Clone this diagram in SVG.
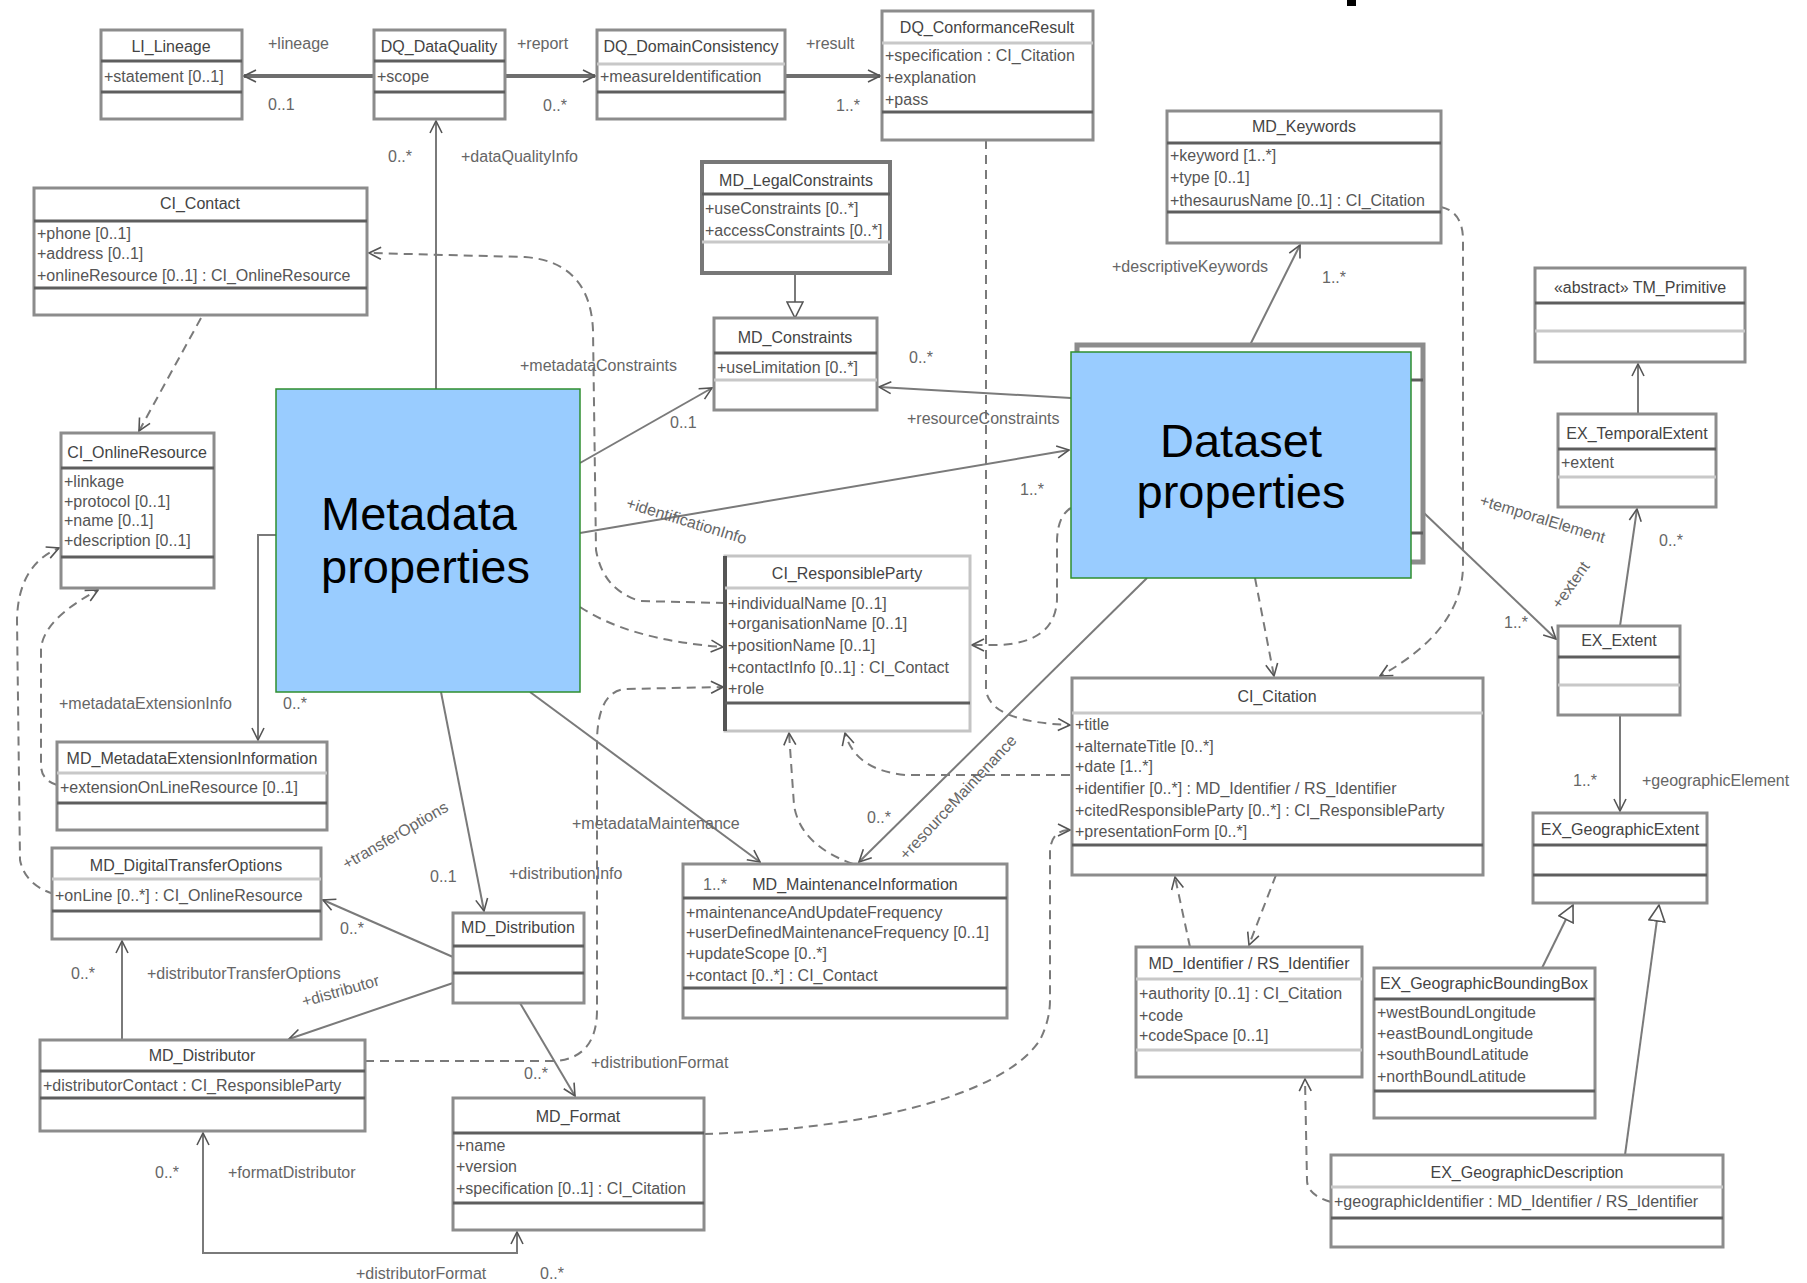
<svg xmlns="http://www.w3.org/2000/svg" width="1807" height="1283" viewBox="0 0 1807 1283">
<style>
.b{fill:#fff;stroke:#8c8c8c;stroke-width:3}
.s{stroke:#5e5e5e;stroke-width:3}
.sl{stroke:#c8c8c8;stroke-width:3}
text{font-family:"Liberation Sans",Arial,sans-serif}
.n{font-size:16px;fill:#444;text-anchor:middle}
.t{font-size:16px;fill:#555}
.l{font-size:16px;fill:#666}
.big{font-size:47px;fill:#000}
.c{fill:none;stroke:#7a7a7a;stroke-width:2}
.k{fill:none;stroke:#6e6e6e;stroke-width:4}
.d{stroke-dasharray:9 6}
.blue{fill:#99CCFF;stroke:#2f8f2f;stroke-width:1.5}
</style>
<defs>
<marker id="a" viewBox="0 0 14 14" refX="13" refY="7" markerWidth="14" markerHeight="14" markerUnits="userSpaceOnUse" orient="auto-start-reverse"><path d="M1,1 L13,7 L1,13" fill="none" stroke="#555" stroke-width="1.6"/></marker>
<marker id="g" viewBox="0 0 18 18" refX="17" refY="9" markerWidth="18" markerHeight="18" markerUnits="userSpaceOnUse" orient="auto"><path d="M1,1 L17,9 L1,17 Z" fill="#fff" stroke="#555" stroke-width="1.6"/></marker>
</defs>
<rect width="1807" height="1283" fill="#fff"/>
<rect x="1347" y="0" width="9" height="6" fill="#000"/>

<g id="connectors">
<path class="k" d="M374,76 L244,76" marker-end="url(#a)"/>
<path class="k" d="M505,76 L595,76" marker-end="url(#a)"/>
<path class="k" d="M785,76 L880,76" marker-end="url(#a)"/>
<path class="c" d="M436,389 L436,121" marker-end="url(#a)"/>
<path class="c" d="M795,273 L795,318" stroke-width="3" marker-end="url(#g)"/>
<path class="c" d="M580,463 L712,388" marker-end="url(#a)"/>
<path class="c" d="M1071,398 L879,387" marker-end="url(#a)"/>
<path class="c" d="M1250,345 L1300,245" marker-end="url(#a)"/>
<path class="c d" d="M1441,207 Q1463,212 1463,240 L1463,565 Q1463,630 1380,676" marker-end="url(#a)"/>
<path class="c d" d="M986,140 L986,690 Q990,722 1070,725" marker-end="url(#a)"/>
<path class="c" d="M580,533 L1069,450" marker-end="url(#a)"/>
<path class="c d" d="M725,603 L640,601 Q603,590 596,550 L593,330 Q590,262 525,257 L369,253" marker-end="url(#a)"/>
<path class="c d" d="M580,607 Q630,640 723,647" marker-end="url(#a)"/>
<path class="c d" d="M365,1061 L555,1061 Q597,1058 597,1010 L597,740 Q598,692 625,689 L723,687" marker-end="url(#a)"/>
<path class="c" d="M530,692 L760,862" marker-end="url(#a)"/>
<path class="c" d="M1147,578 L859,862" marker-end="url(#a)"/>
<path class="c d" d="M853,864 Q800,845 794,805 L789,733" marker-end="url(#a)"/>
<path class="c d" d="M1070,775 L905,775 Q855,770 845,733" marker-end="url(#a)"/>
<path class="c d" d="M1071,508 Q1058,515 1057,540 L1057,600 Q1055,642 1000,645 L972,645" marker-end="url(#a)"/>
<path class="c d" d="M1255,578 L1274,676" marker-end="url(#a)"/>
<path class="c" d="M1424,513 L1556,639" marker-end="url(#a)"/>
<path class="c" d="M1620,626 L1637,509" marker-end="url(#a)"/>
<path class="c" d="M1620,715 L1620,811" stroke-width="3" marker-end="url(#a)"/>
<path class="c" d="M1638,414 L1638,364" stroke-width="3" marker-end="url(#a)"/>
<path class="c" d="M1542,968 L1573,905" marker-end="url(#g)"/>
<path class="c" d="M1625,1155 L1659,905" marker-end="url(#g)"/>
<path class="c d" d="M1331,1202 Q1307,1195 1307,1180 L1305,1079" marker-end="url(#a)"/>
<path class="c d" d="M1190,947 L1175,877" marker-end="url(#a)"/>
<path class="c d" d="M1276,875 L1249,945" marker-end="url(#a)"/>
<path class="c d" d="M704,1134 C850,1130 1000,1100 1040,1040 Q1050,1020 1050,1000 L1050,850 Q1052,830 1070,830" marker-end="url(#a)"/>
<path class="c" d="M441,692 L484,911" marker-end="url(#a)"/>
<path class="c" d="M453,957 L323,900" marker-end="url(#a)"/>
<path class="c" d="M453,983 L289,1039" marker-end="url(#a)"/>
<path class="c" d="M122,1040 L122,941" stroke-width="3" marker-end="url(#a)"/>
<path class="c" d="M520,1003 L575,1096" marker-end="url(#a)"/>
<path class="c" d="M203,1133 L203,1253 L517,1253 L517,1232" stroke-width="3" marker-start="url(#a)" marker-end="url(#a)"/>
<path class="c" d="M276,535 L258,535 L258,740" stroke-width="3" marker-end="url(#a)"/>
<path class="c d" d="M201,318 L139,431" marker-end="url(#a)"/>
<path class="c d" d="M54,894 Q25,885 20,860 L17,620 Q18,565 59,548" marker-end="url(#a)"/>
<path class="c d" d="M57,785 Q41,780 41,765 L41,650 Q42,620 98,590" marker-end="url(#a)"/>

<text class="l" x="268" y="49">+lineage</text>
<text class="l" x="268" y="110">0..1</text>
<text class="l" x="517" y="49">+report</text>
<text class="l" x="543" y="111">0..*</text>
<text class="l" x="806" y="49">+result</text>
<text class="l" x="836" y="111">1..*</text>
<text class="l" x="388" y="162">0..*</text>
<text class="l" x="461" y="162">+dataQualityInfo</text>
<text class="l" x="520" y="371">+metadataConstraints</text>
<text class="l" x="670" y="428">0..1</text>
<text class="l" x="909" y="363">0..*</text>
<text class="l" x="907" y="424">+resourceConstraints</text>
<text class="l" x="1112" y="272">+descriptiveKeywords</text>
<text class="l" x="1322" y="283">1..*</text>
<text class="l" x="1020" y="495">1..*</text>
<text class="l" text-anchor="middle" transform="translate(685,526) rotate(17)">+identificationInfo</text>
<text class="l" x="572" y="829">+metadataMaintenance</text>
<text class="l" text-anchor="middle" transform="translate(962,801) rotate(-47)">+resourceMaintenance</text>
<text class="l" x="867" y="823">0..*</text>
<text class="l" x="1504" y="628">1..*</text>
<text class="l" text-anchor="middle" transform="translate(1575,588) rotate(-55)">+extent</text>
<text class="l" x="1659" y="546">0..*</text>
<text class="l" text-anchor="middle" transform="translate(1541,524) rotate(17)">+temporalElement</text>
<text class="l" x="1573" y="786">1..*</text>
<text class="l" x="1642" y="786">+geographicElement</text>
<text class="l" x="430" y="882">0..1</text>
<text class="l" x="509" y="879">+distributionInfo</text>
<text class="l" x="340" y="934">0..*</text>
<text class="l" text-anchor="middle" transform="translate(398,840) rotate(-30)">+transferOptions</text>
<text class="l" text-anchor="middle" transform="translate(342,996) rotate(-16)">+distributor</text>
<text class="l" x="318" y="1066">1..*</text>
<text class="l" x="71" y="979">0..*</text>
<text class="l" x="147" y="979">+distributorTransferOptions</text>
<text class="l" x="524" y="1079">0..*</text>
<text class="l" x="591" y="1068">+distributionFormat</text>
<text class="l" x="155" y="1178">0..*</text>
<text class="l" x="228" y="1178">+formatDistributor</text>
<text class="l" x="356" y="1279">+distributorFormat</text>
<text class="l" x="540" y="1279">0..*</text>
<text class="l" x="59" y="709">+metadataExtensionInfo</text>
<text class="l" x="283" y="709">0..*</text>
</g>

<g id="LI_Lineage"><rect class="b" x="101" y="30" width="141" height="89"/><line class="s" x1="101" y1="61" x2="242" y2="61"/><line class="s" x1="101" y1="92" x2="242" y2="92"/><text class="n" x="171" y="52">LI_Lineage</text><text class="t" x="104" y="82">+statement [0..1]</text></g>
<g id="DQ_DataQuality"><rect class="b" x="374" y="30" width="131" height="89"/><line class="s" x1="374" y1="61" x2="505" y2="61"/><line class="s" x1="374" y1="92" x2="505" y2="92"/><text class="n" x="439" y="52">DQ_DataQuality</text><text class="t" x="377" y="82">+scope</text></g>
<g id="DQ_DomainConsistency"><rect class="b" x="597" y="30" width="188" height="89"/><line class="sl" x1="597" y1="64" x2="785" y2="64"/><line class="s" x1="597" y1="92" x2="785" y2="92"/><text class="n" x="691" y="52">DQ_DomainConsistency</text><text class="t" x="600" y="82">+measureIdentification</text></g>
<g id="DQ_ConformanceResult"><rect class="b" x="882" y="11" width="211" height="129"/><line class="sl" x1="882" y1="43" x2="1093" y2="43"/><line class="s" x1="882" y1="112" x2="1093" y2="112"/><text class="n" x="987" y="33">DQ_ConformanceResult</text><text class="t" x="885" y="61">+specification : CI_Citation</text><text class="t" x="885" y="83">+explanation</text><text class="t" x="885" y="105">+pass</text></g>
<g id="MD_LegalConstraints"><rect class="b" x="702" y="162" width="188" height="111" style="stroke:#777;stroke-width:4"/><line class="s" x1="702" y1="194" x2="890" y2="194"/><line class="sl" x1="702" y1="242" x2="890" y2="242"/><text class="n" x="796" y="186">MD_LegalConstraints</text><text class="t" x="705" y="214">+useConstraints [0..*]</text><text class="t" x="705" y="236">+accessConstraints [0..*]</text></g>
<g id="MD_Constraints"><rect class="b" x="714" y="318" width="163" height="92"/><line class="s" x1="714" y1="353" x2="877" y2="353"/><line class="sl" x1="714" y1="380" x2="877" y2="380"/><text class="n" x="795" y="343">MD_Constraints</text><text class="t" x="717" y="373">+useLimitation [0..*]</text></g>
<g id="MD_Keywords"><rect class="b" x="1167" y="111" width="274" height="132"/><line class="s" x1="1167" y1="143" x2="1441" y2="143"/><line class="s" x1="1167" y1="212" x2="1441" y2="212"/><text class="n" x="1304" y="132">MD_Keywords</text><text class="t" x="1170" y="161">+keyword [1..*]</text><text class="t" x="1170" y="183">+type [0..1]</text><text class="t" x="1170" y="206">+thesaurusName [0..1] : CI_Citation</text></g>
<g id="TM_Primitive"><rect class="b" x="1535" y="268" width="210" height="94"/><line class="s" x1="1535" y1="303" x2="1745" y2="303"/><line class="sl" x1="1535" y1="331" x2="1745" y2="331"/><text class="n" x="1640" y="293">«abstract» TM_Primitive</text></g>
<g id="EX_TemporalExtent"><rect class="b" x="1558" y="414" width="158" height="93"/><line class="s" x1="1558" y1="449" x2="1716" y2="449"/><line class="sl" x1="1558" y1="477" x2="1716" y2="477"/><text class="n" x="1637" y="439">EX_TemporalExtent</text><text class="t" x="1561" y="468">+extent</text></g>
<g id="EX_Extent"><rect class="b" x="1558" y="626" width="122" height="89"/><line class="s" x1="1558" y1="657" x2="1680" y2="657"/><line class="sl" x1="1558" y1="685" x2="1680" y2="685"/><text class="n" x="1619" y="646">EX_Extent</text></g>
<g id="EX_GeographicExtent"><rect class="b" x="1533" y="813" width="174" height="90"/><line class="s" x1="1533" y1="845" x2="1707" y2="845"/><line class="s" x1="1533" y1="875" x2="1707" y2="875"/><text class="n" x="1620" y="835">EX_GeographicExtent</text></g>
<g id="EX_GeographicBoundingBox"><rect class="b" x="1374" y="968" width="221" height="150"/><line class="s" x1="1374" y1="999" x2="1595" y2="999"/><line class="s" x1="1374" y1="1091" x2="1595" y2="1091"/><text class="n" x="1484" y="989">EX_GeographicBoundingBox</text><text class="t" x="1377" y="1018">+westBoundLongitude</text><text class="t" x="1377" y="1039">+eastBoundLongitude</text><text class="t" x="1377" y="1060">+southBoundLatitude</text><text class="t" x="1377" y="1082">+northBoundLatitude</text></g>
<g id="EX_GeographicDescription"><rect class="b" x="1331" y="1155" width="392" height="92"/><line class="sl" x1="1331" y1="1187" x2="1723" y2="1187"/><line class="s" x1="1331" y1="1218" x2="1723" y2="1218"/><text class="n" x="1527" y="1178">EX_GeographicDescription</text><text class="t" x="1334" y="1207">+geographicIdentifier : MD_Identifier / RS_Identifier</text></g>
<g id="MD_Identifier"><rect class="b" x="1136" y="947" width="226" height="130"/><line class="sl" x1="1136" y1="979" x2="1362" y2="979"/><line class="sl" x1="1136" y1="1050" x2="1362" y2="1050"/><text class="n" x="1249" y="969">MD_Identifier / RS_Identifier</text><text class="t" x="1139" y="999">+authority [0..1] : CI_Citation</text><text class="t" x="1139" y="1021">+code</text><text class="t" x="1139" y="1041">+codeSpace [0..1]</text></g>
<g id="CI_Citation"><rect class="b" x="1072" y="678" width="411" height="197"/><line class="sl" x1="1072" y1="713" x2="1483" y2="713"/><line class="s" x1="1072" y1="845" x2="1483" y2="845"/><text class="n" x="1277" y="702">CI_Citation</text><text class="t" x="1075" y="730">+title</text><text class="t" x="1075" y="752">+alternateTitle [0..*]</text><text class="t" x="1075" y="772">+date [1..*]</text><text class="t" x="1075" y="794">+identifier [0..*] : MD_Identifier / RS_Identifier</text><text class="t" x="1075" y="816">+citedResponsibleParty [0..*] : CI_ResponsibleParty</text><text class="t" x="1075" y="837">+presentationForm [0..*]</text></g>
<g id="CI_ResponsibleParty"><rect class="b" x="725" y="556" width="245" height="175" style="stroke:#c4c4c4"/><line x1="725" y1="556" x2="725" y2="731" stroke="#555" stroke-width="4"/><line class="sl" x1="725" y1="588" x2="970" y2="588"/><line class="s" x1="725" y1="703" x2="970" y2="703"/><text class="n" x="847" y="579">CI_ResponsibleParty</text><text class="t" x="728" y="609">+individualName [0..1]</text><text class="t" x="728" y="629">+organisationName [0..1]</text><text class="t" x="728" y="651">+positionName [0..1]</text><text class="t" x="728" y="673">+contactInfo [0..1] : CI_Contact</text><text class="t" x="728" y="694">+role</text></g>
<g id="MD_MaintenanceInformation"><rect class="b" x="683" y="864" width="324" height="154"/><line class="s" x1="683" y1="898" x2="1007" y2="898"/><line class="s" x1="683" y1="988" x2="1007" y2="988"/><text class="l" x="703" y="890">1..*</text><text class="n" x="855" y="890">MD_MaintenanceInformation</text><text class="t" x="686" y="918">+maintenanceAndUpdateFrequency</text><text class="t" x="686" y="938">+userDefinedMaintenanceFrequency [0..1]</text><text class="t" x="686" y="959">+updateScope [0..*]</text><text class="t" x="686" y="981">+contact [0..*] : CI_Contact</text></g>
<g id="MD_Distribution"><rect class="b" x="453" y="913" width="131" height="90"/><line class="s" x1="453" y1="946" x2="584" y2="946"/><line class="s" x1="453" y1="973" x2="584" y2="973"/><text class="n" x="518" y="933">MD_Distribution</text></g>
<g id="MD_DigitalTransferOptions"><rect class="b" x="52" y="848" width="269" height="91"/><line class="sl" x1="52" y1="879" x2="321" y2="879"/><line class="s" x1="52" y1="911" x2="321" y2="911"/><text class="n" x="186" y="871">MD_DigitalTransferOptions</text><text class="t" x="55" y="901">+onLine [0..*] : CI_OnlineResource</text></g>
<g id="MD_Distributor"><rect class="b" x="40" y="1040" width="325" height="91"/><line class="s" x1="40" y1="1071" x2="365" y2="1071"/><line class="s" x1="40" y1="1098" x2="365" y2="1098"/><text class="n" x="202" y="1061">MD_Distributor</text><text class="t" x="43" y="1091">+distributorContact : CI_ResponsibleParty</text></g>
<g id="MD_Format"><rect class="b" x="453" y="1098" width="251" height="132"/><line class="s" x1="453" y1="1133" x2="704" y2="1133"/><line class="s" x1="453" y1="1203" x2="704" y2="1203"/><text class="n" x="578" y="1122">MD_Format</text><text class="t" x="456" y="1151">+name</text><text class="t" x="456" y="1172">+version</text><text class="t" x="456" y="1194">+specification [0..1] : CI_Citation</text></g>
<g id="MD_MetadataExtensionInformation"><rect class="b" x="57" y="742" width="270" height="88"/><line class="sl" x1="57" y1="773" x2="327" y2="773"/><line class="s" x1="57" y1="803" x2="327" y2="803"/><text class="n" x="192" y="764">MD_MetadataExtensionInformation</text><text class="t" x="60" y="793">+extensionOnLineResource [0..1]</text></g>
<g id="CI_OnlineResource"><rect class="b" x="61" y="433" width="153" height="155"/><line class="s" x1="61" y1="468" x2="214" y2="468"/><line class="s" x1="61" y1="557" x2="214" y2="557"/><text class="n" x="137" y="458">CI_OnlineResource</text><text class="t" x="64" y="487">+linkage</text><text class="t" x="64" y="507">+protocol [0..1]</text><text class="t" x="64" y="526">+name [0..1]</text><text class="t" x="64" y="546">+description [0..1]</text></g>
<g id="CI_Contact"><rect class="b" x="34" y="188" width="333" height="127"/><line class="s" x1="34" y1="221" x2="367" y2="221"/><line class="s" x1="34" y1="288" x2="367" y2="288"/><text class="n" x="200" y="209">CI_Contact</text><text class="t" x="37" y="239">+phone [0..1]</text><text class="t" x="37" y="259">+address [0..1]</text><text class="t" x="37" y="281">+onlineResource [0..1] : CI_OnlineResource</text></g>
<g id="MetadataProperties"><rect class="blue" x="276" y="389" width="304" height="303"/><text class="big" x="321" y="530">Metadata</text><text class="big" x="321" y="583">properties</text></g>
<g id="DatasetProperties"><rect class="b" x="1077" y="345" width="346" height="217" style="stroke-width:5"/><line class="s" x1="1411" y1="380" x2="1423" y2="380"/><line class="s" x1="1411" y1="533" x2="1423" y2="533"/><rect class="blue" x="1071" y="352" width="340" height="226"/><text class="big" x="1241" y="457" text-anchor="middle">Dataset</text><text class="big" x="1241" y="508" text-anchor="middle">properties</text></g>
</svg>
